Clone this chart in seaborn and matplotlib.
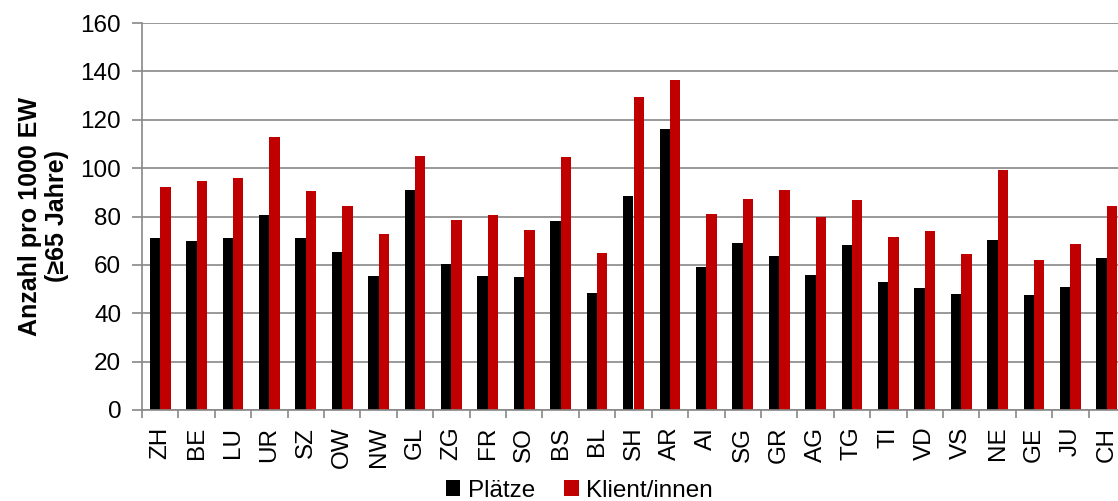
import numpy as np
import pandas as pd
import matplotlib.pyplot as plt
import seaborn as sns

# Kantone und Werte (Anzahl pro 1000 EW, >=65 Jahre)
kantone = ['ZH', 'BE', 'LU', 'UR', 'SZ', 'OW', 'NW', 'GL', 'ZG', 'FR', 'SO', 'BS', 'BL', 'SH',
           'AR', 'AI', 'SG', 'GR', 'AG', 'TG', 'TI', 'VD', 'VS', 'NE', 'GE', 'JU', 'CH']
plaetze = [71, 70, 71, 80.5, 71, 65.5, 55.5, 91, 60.5, 55.5, 54.8, 78, 48.3, 88.3,
           116, 59, 69.2, 63.7, 55.7, 68.3, 52.9, 50.5, 47.9, 70.3, 47.5, 50.8, 62.9]
klienten = [92, 94.5, 96, 113, 90.7, 84.2, 72.9, 105.2, 78.5, 80.5, 74.3, 104.6, 64.8, 129.5,
            136.6, 81.2, 87.2, 90.9, 79.9, 86.8, 71.5, 74.2, 64.5, 99.2, 62.1, 68.8, 84.5]
serien = ['Plätze', 'Klient/innen']
farben = ['#000000', '#C00000']

df = pd.DataFrame({
    'Kanton': kantone * 2,
    'Wert': plaetze + klienten,
    'Serie': [serien[0]] * len(kantone) + [serien[1]] * len(kantone),
})

sns.set_style("white")
plt.rcParams['font.family'] = ['Liberation Sans', 'DejaVu Sans']
plt.rcParams['text.color'] = 'black'
plt.rcParams['axes.labelcolor'] = 'black'
plt.rcParams['xtick.labelcolor'] = 'black'
plt.rcParams['ytick.labelcolor'] = 'black'

grau = '#888888'
fig = plt.figure(figsize=(11.18, 5.01), dpi=100)
ax = fig.add_axes([142 / 1118, 1 - 410 / 501, 983 / 1118, 387 / 501])

sns.barplot(data=df, x='Kanton', y='Wert', hue='Serie', palette=farben, saturation=1,
            width=0.57, gap=0, dodge=True, edgecolor='none', ax=ax, legend=True)

ax.set_xlim(-0.5, len(kantone) - 0.5)
ax.set_ylim(0, 160)
ax.set_yticks(np.arange(0, 161, 20))
ax.yaxis.grid(True, color=grau, linewidth=1.2)
ax.set_axisbelow(True)

# Tick-Striche zwischen den Kategorien
ax.set_xticks(np.arange(-0.5, len(kantone)), minor=True)
ax.tick_params(axis='x', which='minor', length=6, width=1.2, color=grau, bottom=True)
ax.tick_params(axis='x', which='major', length=0, pad=12, labelsize=17.5, rotation=90)
ax.tick_params(axis='y', length=7, width=1.2, color=grau, left=True, pad=8, labelsize=17.5)

for side in ['top', 'right']:
    ax.spines[side].set_visible(False)
for side in ['left', 'bottom']:
    ax.spines[side].set_color(grau)
    ax.spines[side].set_linewidth(1.2)

ax.set_xlabel('')
ax.set_ylabel('Anzahl pro 1000 EW\n(≥65 Jahre)', fontsize=18, fontweight='bold', labelpad=8)

handles, labels = ax.get_legend_handles_labels()
ax.get_legend().remove()
fig.legend(handles, labels, loc='lower center', bbox_to_anchor=(0.518, -0.045), ncol=2,
           frameon=False, fontsize=17.5, handlelength=0.6, handleheight=0.6,
           handletextpad=0.3, columnspacing=1.2)

plt.savefig("out.png", dpi=100)
